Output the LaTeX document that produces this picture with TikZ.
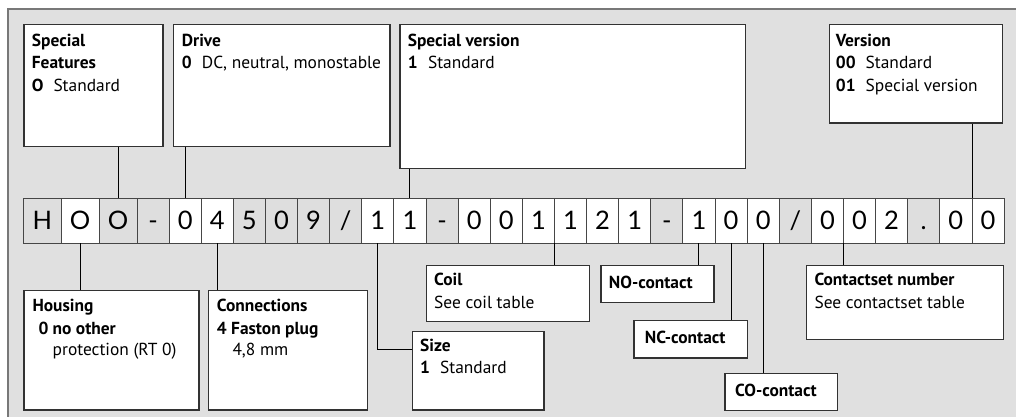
\documentclass[tikz,border=0pt]{standalone}
\usepackage{fontspec}
\setmainfont{PT Sans}
\newfontfamily\cellfont{Lato}
\usetikzlibrary{calc}
\definecolor{panel}{RGB}{224,224,224}
\definecolor{cellgray}{RGB}{222,222,222}
\definecolor{frameline}{RGB}{120,120,120}
\definecolor{boxline}{RGB}{50,50,50}
\definecolor{cellline}{RGB}{70,70,70}
\begin{document}
\begin{tikzpicture}[x=1pt,y=-1pt,
  box/.style={draw=boxline,line width=1.2pt,fill=white,inner sep=0pt,anchor=north west},
  lbl/.style={anchor=base west,inner sep=0pt,font=\fontsize{17.4}{21}\selectfont},
  cell/.style={draw=cellline,line width=0.8pt,minimum height=45pt,inner sep=0pt,
    text height=18.3pt,text depth=0pt,font=\cellfont\fontsize{25.5}{26}\selectfont},
  conn/.style={draw=black,line width=1pt}]
\useasboundingbox (0,0) rectangle (1016,417);
\fill[panel] (8,9) rectangle (1016,417);
\draw[frameline,line width=1.6pt] (8,418) -- (8,9) -- (1017,9);
% boxes
\node[box,minimum width=139pt,minimum height=121.4pt] (sf) at (23.3,24.3) {};
\node[box,minimum width=216.6pt,minimum height=121.4pt] (dr) at (172.7,24.3) {};
\node[box,minimum width=345.7pt,minimum height=143.4pt] (sv) at (399.3,24.3) {};
\node[box,minimum width=173pt,minimum height=98pt] (vr) at (828.7,24.3) {};
\node[box,minimum width=175pt,minimum height=119.8pt] (ho) at (23.3,289.5) {};
\node[box,minimum width=159pt,minimum height=119.8pt] (cn) at (207.7,289.5) {};
\node[box,minimum width=163pt,minimum height=55.7pt] (co) at (425.7,265) {};
\node[box,minimum width=131.6pt,minimum height=78.6pt] (sz) at (411.7,330.7) {};
\node[box,minimum width=113pt,minimum height=37pt] (no) at (600.3,265) {};
\node[box,minimum width=113.4pt,minimum height=37.3pt] (nc) at (633.3,320) {};
\node[box,minimum width=112.7pt,minimum height=37pt] (cc) at (724.3,373) {};
\node[box,minimum width=197pt,minimum height=74pt] (cs) at (805.7,265) {};
% texts
\node[lbl] (sf1) at (31.7,46.7) {\textbf{Special}};
\node[lbl] (sf2) at (31.7,69) {\textbf{Features}};
\node[lbl] (sf3) at (31.7,91.3) {\makebox[21.6pt][l]{\textbf{O}}Standard};
\node[lbl] (dr1) at (181.7,46.7) {\textbf{Drive}};
\node[lbl] (dr2) at (181.7,69) {\makebox[20pt][l]{\textbf{0}}DC, neutral, monostable};
\node[lbl] (sv1) at (407.6,46.7) {\textbf{Special version}};
\node[lbl] (sv2) at (407.6,69) {\makebox[20.3pt][l]{\textbf{1}}Standard};
\node[lbl] (vr1) at (835.7,46.7) {\textbf{Version}};
\node[lbl] (vr2) at (835.7,69) {\makebox[29.8pt][l]{\textbf{00}}Standard};
\node[lbl] (vr3) at (835.7,91.3) {\makebox[29.8pt][l]{\textbf{01}}Special version};
\node[lbl] (ho1) at (32.3,311.7) {\textbf{Housing}};
\node[lbl] (ho2) at (38.3,334) {\makebox[14.2pt][l]{\textbf{0}}\textbf{no other}};
\node[lbl] (ho3) at (52.5,355.5) {protection (RT 0)};
\node[lbl] (cn1) at (216.7,311.7) {\textbf{Connections}};
\node[lbl] (cn2) at (216.7,334) {\textbf{4 Faston plug}};
\node[lbl] (cn3) at (232.3,355.5) {4,8 mm};
\node[lbl] (co1) at (434,285.7) {\textbf{Coil}};
\node[lbl] (co2) at (434,308.3) {See coil table};
\node[lbl] (sz1) at (420,351.7) {\textbf{Size}};
\node[lbl] (sz2) at (420,373.3) {\makebox[20pt][l]{\textbf{1}}Standard};
\node[lbl] (no1) at (608.7,288.3) {\textbf{NO-contact}};
\node[lbl] (nc1) at (644.7,343.3) {\textbf{NC-contact}};
\node[lbl] (cc1) at (735,396) {\textbf{CO-contact}};
\node[lbl] (cs1) at (814.3,285.7) {\textbf{Contactset number}};
\node[lbl] (cs2) at (814.3,308.3) {See contactset table};
% code cells
\foreach \i/\ch/\f in {1/H/cellgray,2/O/white,3/O/cellgray,4/-/cellgray,5/0/white,
  6/4/white,7/5/cellgray,8/0/cellgray,9/9/cellgray,10/\slash/cellgray,11/1/white,
  12/1/white,13/-/cellgray,14/0/white,15/0/white,16/1/white,17/1/white,18/2/white,
  19/1/white,20/-/cellgray,21/1/white,22/0/white,23/0/white,24/\slash/cellgray,
  25/0/white,26/0/white,27/2/white,28/./cellgray,29/0/white,30/0/white}{
  \pgfmathsetmacro\cx{\i<4 ? 23.3+(\i-0.5)*37.9 : 137+(\i-3.5)*32.111}
  \pgfmathsetmacro\cw{\i<4 ? 37.9 : 32.111}
  \node[cell,fill=\f,minimum width=\cw pt] (c\i) at (\cx,220.5) {\ch};
}
% connectors
\draw[conn] (c3.north |- sf.south) -- (c3.north);
\draw[conn] (c5.north |- dr.south) -- (c5.north);
\draw[conn] (c12.north |- sv.south) -- (c12.north);
\draw[conn] (c29.north east |- vr.south) -- (c29.north east);
\draw[conn] (c2.south) -- (c2.south |- ho.north);
\draw[conn] (c6.south) -- (c6.south |- cn.north);
\coordinate (szin) at ($(sz.north west)+(0,18.3)$);
\draw[conn] (c11.south) |- (szin);
\draw[conn] (c16.south east) -- (c16.south east |- co.north);
\draw[conn] (c21.south) -- (c21.south |- no.north);
\draw[conn] (c22.south) -- (c22.south |- nc.north);
\draw[conn] (c23.south) -- (c23.south |- cc.north);
\draw[conn] (c25.south east) -- (c25.south east |- cs.north);
\end{tikzpicture}
\end{document}
